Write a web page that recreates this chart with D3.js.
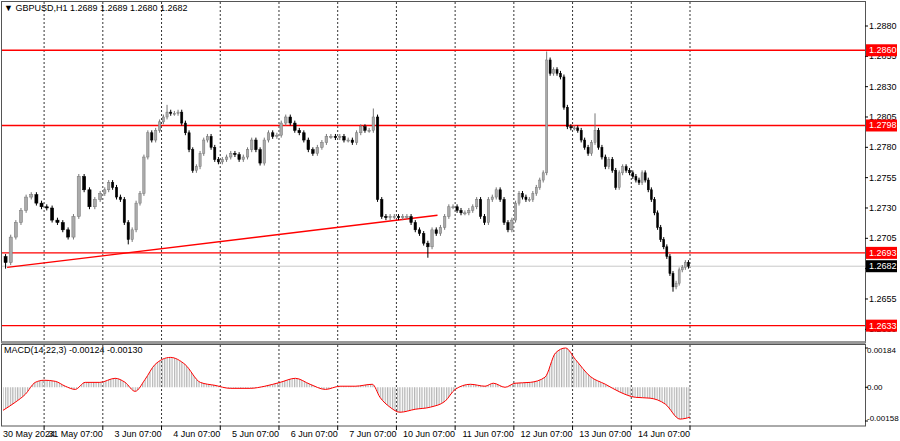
<!DOCTYPE html>
<html><head><meta charset="utf-8">
<script src="https://cdn.jsdelivr.net/npm/d3@7"></script>
<style>body{margin:0;background:#fff}text{font-family:"Liberation Sans",Arial,sans-serif;font-size:9px}</style>
</head><body><svg id="c" width="900" height="441"></svg>
<script>
// closes per day segment (2h bars)
const closesByDay = [
  [1.2685,1.2706,1.2718,1.2728,1.2739,1.2741,1.2734,1.2731],
  [1.2730,1.2720,1.2718,1.2712,1.2706,1.2723,1.2756,1.2745,1.2731,1.2737,1.2742],
  [1.2745,1.2751,1.2747,1.2739,1.2737,1.2718,1.2704,1.2712,1.2734,1.2742,1.2772,1.2792,1.2786,1.2794,1.2801],
  [1.2805,1.2809,1.2808,1.2808,1.2809,1.2800,1.2792,1.2778,1.2761,1.2764,1.2775,1.2786,1.2789,1.2780,1.2770,1.2768],
  [1.2770,1.2772,1.2775,1.2774,1.2770,1.2772,1.2778,1.2786,1.2778,1.2767,1.2786,1.2792,1.2789,1.2790],
  [1.2800,1.2805,1.2800,1.2794,1.2792,1.2786,1.2778,1.2775,1.2780,1.2784,1.2789,1.2789,1.2788],
  [1.2789,1.2786,1.2786,1.2784,1.2792,1.2797,1.2794,1.2794,1.2805,1.2737,1.2723,1.2722,1.2723,1.2723],
  [1.2722,1.2723,1.2723,1.2718,1.2712,1.2709,1.2701,1.2698,1.2712,1.2709,1.2714,1.2723,1.2731,1.2731],
  [1.2728,1.2726,1.2726,1.2728,1.2731,1.2737,1.2723,1.2718,1.2737,1.2739,1.2745,1.2737,1.2718,1.2712,1.2720],
  [1.2734,1.2742,1.2739,1.2737,1.2737,1.2742,1.2747,1.2753,1.2759,1.2852,1.2841,1.2844,1.2841,1.2838,1.2813,1.2797,1.2796],
  [1.2796,1.2794,1.2786,1.2780,1.2775,1.2784,1.2794,1.2780,1.2772,1.2764,1.2770,1.2761,1.2747,1.2759,1.2764,1.2761,1.2759],
  [1.2756,1.2753,1.2751,1.2759,1.2753,1.2745,1.2737,1.2726,1.2714,1.2704,1.2698,1.2690,1.2676,1.2665,1.2668,1.2679,1.2681,1.2685,1.2682]
];
const firstOpen = 1.2690;
const spikes = [
  {day:0, bar:0, low:1.2680}, {day:6, bar:8, high:1.2812}, {day:7, bar:7, low:1.2689},
  {day:9, bar:9, high:1.2859}, {day:10, bar:6, high:1.2808}, {day:11, bar:13, low:1.2661},
  {day:3, bar:1, high:1.2815}, {day:2, bar:6, low:1.2700}
];
const dateLabels = ["30 May 2024","31 May 07:00","3 Jun 07:00","4 Jun 07:00","5 Jun 07:00","6 Jun 07:00",
  "7 Jun 07:00","10 Jun 07:00","11 Jun 07:00","12 Jun 07:00","13 Jun 07:00","14 Jun 07:00"];
const priceTicks = [1.2880,1.2855,1.2830,1.2805,1.2780,1.2755,1.2730,1.2705,1.2680,1.2655,1.2630];
const levels = [1.2860,1.2798,1.2693,1.2633];
const lastPrice = 1.2682;
const trend = [{t:-0.63,p:1.2681},{t:6.70,p:1.2724}];
const macdT = [-0.70,-0.49,-0.32,-0.15,0,0.19,0.36,0.53,0.70,0.95,1.21,1.38,1.55,1.72,1.89,2.15,2.40,2.66,2.91,3.17,3.51,3.76,4.02,4.28,4.53,4.79,5.04,5.30,5.59,5.72,5.89,6.06,6.32,6.58,6.83,7.00,7.26,7.51,7.65,7.85,8.02,8.28,8.53,8.71,8.88,9.05,9.30,9.56,9.81,10.07,10.32,10.58,10.83,11.0];
const macdV = [-0.00108,-0.0007,-0.00033,0.00023,0.00033,0.00028,0.00005,-0.0001,0.00023,0.00023,0.00042,0.00023,-0.00019,0.00037,0.00107,0.0014,0.00107,0.00023,0.00009,-0.00005,-0.00005,0.00005,0.00023,0.00042,0.00014,-0.0001,0.00005,0.00005,0.00014,-0.00047,-0.00093,-0.00117,-0.00103,-0.00093,-0.00065,-0.0001,0.00014,0.00005,0.00019,0,0.00019,0.00023,0.00047,0.00161,0.00184,0.0013,0.00051,0.00014,-0.00023,-0.00047,-0.00051,-0.00079,-0.00149,-0.0014];

const svg = d3.select("#c");
const x = d3.scaleLinear().domain([-0.7, 11]).range([3, 690]);
const y = d3.scaleLinear().domain([1.2880, 1.2600]).range([26, 365.7]);
const ym = d3.scaleLinear().domain([0.00184, -0.00158]).range([348, 421]);

// build bars
const bars = [];
let prev = firstOpen;
closesByDay.forEach((arr, d) => {
  const s = d === 0 ? -0.7 : d - 1, e = d, w = (e - s) / arr.length;
  arr.forEach((c, i) => {
    const b = {t: s + (i + 0.5) * w, w: w, o: prev, c: c};
    b.h = Math.max(b.o, c) + 0.0002; b.l = Math.min(b.o, c) - 0.0002;
    const sp = spikes.find(k => k.day === d && k.bar === i);
    if (sp && sp.high) b.h = sp.high;
    if (sp && sp.low) b.l = sp.low;
    bars.push(b); prev = c;
  });
});

svg.append("defs").append("clipPath").attr("id", "mainclip")
  .append("rect").attr("x", 2).attr("y", 2).attr("width", 863).attr("height", 340);
const hp = svg.select("defs").append("pattern").attr("id", "hist")
  .attr("patternUnits", "userSpaceOnUse").attr("width", 2.45).attr("height", 10);
hp.append("rect").attr("width", 1.2).attr("height", 10).attr("fill", "#b4b4b4");

// gridlines
const grid = svg.append("g").attr("stroke", "#000").attr("stroke-dasharray", "2,2").attr("stroke-width", 0.8);
d3.range(12).forEach(k => {
  grid.append("line").attr("x1", x(k)).attr("x2", x(k)).attr("y1", 2).attr("y2", 342);
  grid.append("line").attr("x1", x(k)).attr("x2", x(k)).attr("y1", 345).attr("y2", 426);
});

const main = svg.append("g").attr("clip-path", "url(#mainclip)");
main.append("line").attr("x1", 2).attr("x2", 865).attr("y1", y(lastPrice)).attr("y2", y(lastPrice)).attr("stroke", "#c8c8c8");
main.selectAll("line.lv").data(levels).enter().append("line").attr("class", "lv")
  .attr("x1", 2).attr("x2", 865).attr("y1", d => y(d)).attr("y2", d => y(d))
  .attr("stroke", "#f00").attr("stroke-width", 1.3);
main.append("line").attr("x1", x(trend[0].t)).attr("y1", y(trend[0].p)).attr("x2", x(trend[1].t)).attr("y2", y(trend[1].p))
  .attr("stroke", "#f00").attr("stroke-width", 1.3);

const cg = main.selectAll("g.bar").data(bars).enter().append("g");
cg.append("line").attr("x1", d => x(d.t)).attr("x2", d => x(d.t)).attr("y1", d => y(d.h)).attr("y2", d => y(d.l))
  .attr("stroke", d => d.c >= d.o ? "#777" : "#000");
cg.append("rect")
  .attr("x", d => x(d.t) - Math.max(1, (x(d.w) - x(0)) * 0.3))
  .attr("width", d => Math.max(2, (x(d.w) - x(0)) * 0.6))
  .attr("y", d => y(Math.max(d.o, d.c)))
  .attr("height", d => Math.max(1, Math.abs(y(d.o) - y(d.c))))
  .attr("fill", d => d.c >= d.o ? "#aaa" : "#000")
  .attr("stroke", d => d.c >= d.o ? "#777" : "#000").attr("stroke-width", 0.5);

// macd
const mdata = macdT.map((t, i) => ({t: t, v: macdV[i]}));
svg.append("path").datum(mdata)
  .attr("d", d3.area().x(d => x(d.t)).y0(ym(0)).y1(d => ym(d.v)).curve(d3.curveMonotoneX))
  .attr("fill", "url(#hist)");
svg.append("path").datum(mdata)
  .attr("d", d3.line().x(d => x(d.t)).y(d => ym(d.v)).curve(d3.curveMonotoneX))
  .attr("fill", "none").attr("stroke", "#f00").attr("stroke-width", 1);

// frames
svg.append("rect").attr("x", 1.5).attr("y", 1.5).attr("width", 864).attr("height", 341).attr("fill", "none").attr("stroke", "#555");
svg.append("rect").attr("x", 1.5).attr("y", 341).attr("width", 864).attr("height", 3).attr("fill", "#999");
svg.append("rect").attr("x", 1.5).attr("y", 344.5).attr("width", 864).attr("height", 81.5).attr("fill", "none").attr("stroke", "#555");

// price axis
const ax = svg.append("g");
priceTicks.forEach(p => {
  ax.append("line").attr("x1", 865).attr("x2", 868).attr("y1", y(p)).attr("y2", y(p)).attr("stroke", "#000");
  ax.append("text").attr("x", 869).attr("y", y(p) + 3).text(p.toFixed(4)).attr("fill", "#000");
});
levels.forEach(p => {
  ax.append("rect").attr("x", 866).attr("y", y(p) - 6).attr("width", 31).attr("height", 12).attr("fill", "#f00");
  ax.append("text").attr("x", 869).attr("y", y(p) + 3).text(p.toFixed(4)).attr("fill", "#fff");
});
ax.append("rect").attr("x", 866).attr("y", y(lastPrice) - 6).attr("width", 31).attr("height", 12).attr("fill", "#000");
ax.append("text").attr("x", 869).attr("y", y(lastPrice) + 3).text(lastPrice.toFixed(4)).attr("fill", "#fff");
[[0.00184,"0.00184",5],[0,"0.00",3],[-0.00158,"-0.00158",0]].forEach(m => {
  ax.append("line").attr("x1", 865).attr("x2", 868).attr("y1", ym(m[0])).attr("y2", ym(m[0])).attr("stroke", "#000");
  ax.append("text").attr("x", 867).attr("y", ym(m[0]) + m[2]).text(m[1]).style("font-size", "8px");
});

// date axis
dateLabels.forEach((l, k) => {
  svg.append("line").attr("x1", x(k)).attr("x2", x(k)).attr("y1", 426).attr("y2", 430).attr("stroke", "#000");
  svg.append("text").attr("x", k === 0 ? 3 : x(k)).attr("y", 437)
    .attr("text-anchor", k === 0 ? "start" : "end").text(l);
});

svg.append("text").attr("x", 4).attr("y", 11).text("▼ GBPUSD,H1  1.2689 1.2689 1.2680 1.2682");
svg.append("text").attr("x", 4).attr("y", 353).text("MACD(14,22,3) -0.00124 -0.00130");
</script></body></html>
